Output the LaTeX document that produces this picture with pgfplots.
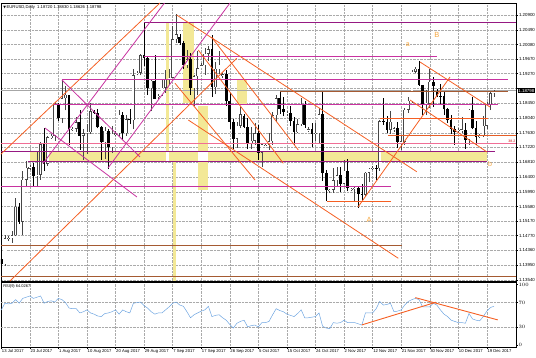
\documentclass[border=0pt]{standalone}
\usepackage{pgfplots}
\pgfplotsset{compat=1.18}
\usepackage{pgfplotstable}
\usepackage{fontspec}
\setmainfont{Liberation Sans}
\newfontfamily\dejavu{DejaVu Sans}

\definecolor{mag}{RGB}{150,25,130}
\definecolor{magl}{RGB}{200,50,160}
\definecolor{pinkl}{RGB}{240,110,150}
\definecolor{orng}{RGB}{245,95,35}
\definecolor{brwn}{RGB}{165,90,50}
\definecolor{ylw}{RGB}{243,232,150}
\definecolor{rsiblue}{RGB}{110,165,225}
\definecolor{gridc}{RGB}{170,170,170}
\definecolor{lbl}{RGB}{245,165,60}
\definecolor{cand}{RGB}{70,70,70}

\pgfplotstableread{
i o h l c
1 1.1398 1.1480 1.1393 1.1470
2 1.1468 1.1475 1.1462 1.1470
3 1.1470 1.1491 1.1457 1.1478
4 1.1478 1.1583 1.1475 1.1557
6 1.1516 1.1658 1.1480 1.1632
7 1.1632 1.1684 1.1613 1.1665
8 1.1663 1.1672 1.1660 1.1668
10 1.1642 1.1712 1.1612 1.1646
11 1.1646 1.1738 1.1633 1.1731
13 1.1677 1.1753 1.1671 1.1750
14 1.1748 1.1760 1.1745 1.1755
15 1.1755 1.1847 1.1740 1.1842
17 1.1803 1.1910 1.1790 1.1859
18 1.1859 1.1893 1.1825 1.1868
20 1.1770 1.1778 1.1768 1.1774
21 1.1774 1.1808 1.1765 1.1792
23 1.1754 1.1774 1.1688 1.1762
24 1.1762 1.1788 1.1704 1.1765
25 1.1765 1.1845 1.1760 1.1822
29 1.1736 1.1779 1.1691 1.1768
31 1.1723 1.1781 1.1706 1.1760
32 1.1758 1.1768 1.1755 1.1762
33 1.1762 1.1825 1.1754 1.1813
35 1.1761 1.1813 1.1755 1.1800
37 1.1797 1.1941 1.1773 1.1923
38 1.1925 1.1935 1.1922 1.1930
39 1.1930 1.1983 1.1923 1.1978
42 1.1886 1.1911 1.1823 1.1908
44 1.1862 1.1870 1.1856 1.1866
45 1.1866 1.1913 1.1865 1.1888
46 1.1888 1.1938 1.1873 1.1913
47 1.1913 1.1939 1.1895 1.1916
48 1.1916 1.2059 1.1915 1.2022
49 1.2022 1.2092 1.2013 1.2036
52 1.1951 1.1994 1.1942 1.1967
54 1.1887 1.1923 1.1838 1.1920
55 1.1920 1.1989 1.1867 1.1942
56 1.1948 1.1956 1.1945 1.1950
57 1.1950 1.1997 1.1924 1.1983
58 1.1983 1.2004 1.1962 1.1995
60 1.1890 1.1960 1.1870 1.1940
61 1.1940 1.1990 1.1927 1.1951
62 1.1920 1.1930 1.1914 1.1925
66 1.1746 1.1792 1.1721 1.1782
67 1.1782 1.1834 1.1776 1.1814
70 1.1731 1.1780 1.1717 1.1741
71 1.1741 1.1790 1.1730 1.1762
73 1.1707 1.1731 1.1669 1.1731
74 1.1728 1.1735 1.1725 1.1730
75 1.1730 1.1763 1.1715 1.1739
76 1.1739 1.1820 1.1730 1.1812
77 1.1812 1.1869 1.1792 1.1859
80 1.1815 1.1822 1.1810 1.1818
83 1.1765 1.1800 1.1761 1.1787
84 1.1787 1.1860 1.1783 1.1843
86 1.1770 1.1780 1.1765 1.1772
88 1.1760 1.1791 1.1740 1.1762
89 1.1762 1.1832 1.1735 1.1814
92 1.1600 1.1608 1.1595 1.1605
93 1.1605 1.1666 1.1596 1.1631
94 1.1631 1.1669 1.1615 1.1645
96 1.1621 1.1688 1.1620 1.1657
98 1.1604 1.1610 1.1600 1.1606
99 1.1606 1.1611 1.1574 1.1610
102 1.1591 1.1655 1.1584 1.1652
103 1.1652 1.1666 1.1626 1.1663
104 1.1663 1.1670 1.1660 1.1665
106 1.1664 1.1798 1.1658 1.1795
109 1.1771 1.1822 1.1760 1.1794
110 1.1770 1.1778 1.1765 1.1775
112 1.1737 1.1757 1.1714 1.1739
113 1.1738 1.1832 1.1730 1.1827
114 1.1827 1.1863 1.1818 1.1851
115 1.1851 1.1937 1.1845 1.1933
116 1.1933 1.1945 1.1930 1.1940
119 1.1844 1.1881 1.1812 1.1846
120 1.1844 1.1940 1.1832 1.1904
128 1.1768 1.1775 1.1763 1.1770
129 1.1770 1.1807 1.1762 1.1772
131 1.1743 1.1828 1.1730 1.1827
134 1.1752 1.1760 1.1748 1.1756
135 1.1756 1.1810 1.1751 1.1783
136 1.1783 1.1849 1.1772 1.1840
137 1.1840 1.1880 1.1826 1.1872
138 1.18720 1.18830 1.18626 1.18798
}\bull

\pgfplotstableread{
i o h l c
0 1.1413 1.1430 1.1390 1.1398
5 1.1557 1.1568 1.1510 1.1516
9 1.1668 1.1678 1.1613 1.1642
12 1.1731 1.1777 1.1656 1.1677
16 1.1842 1.1846 1.1795 1.1803
19 1.1868 1.1869 1.1729 1.1773
22 1.1792 1.1827 1.1715 1.1754
26 1.1822 1.1826 1.1815 1.1818
27 1.1818 1.1830 1.1775 1.1778
28 1.1778 1.1783 1.1688 1.1736
30 1.1768 1.1774 1.1662 1.1723
34 1.1813 1.1820 1.1742 1.1761
36 1.1800 1.1829 1.1788 1.1797
40 1.1978 1.2070 1.1949 1.1970
41 1.1970 1.1977 1.1868 1.1886
43 1.1908 1.1980 1.1856 1.1858
50 1.2030 1.2036 1.2008 1.2012
51 1.2012 1.2019 1.1940 1.1951
53 1.1967 1.1985 1.1868 1.1887
59 1.1995 1.2035 1.1862 1.1890
63 1.1925 1.1938 1.1838 1.1850
64 1.1850 1.1872 1.1774 1.1793
65 1.1793 1.1801 1.1717 1.1746
68 1.1810 1.1815 1.1775 1.1780
69 1.1780 1.1803 1.1717 1.1731
72 1.1762 1.1785 1.1687 1.1707
78 1.1859 1.1880 1.1816 1.1830
79 1.1830 1.1861 1.1809 1.1821
81 1.1818 1.1836 1.1781 1.1796
82 1.1796 1.1806 1.1729 1.1765
85 1.1843 1.1850 1.1777 1.1785
87 1.1772 1.1790 1.1723 1.1760
90 1.1814 1.1880 1.1630 1.1651
91 1.1651 1.1660 1.1573 1.1604
95 1.1645 1.1669 1.1598 1.1621
97 1.1657 1.1689 1.1600 1.1609
100 1.1610 1.1612 1.1554 1.1593
101 1.1593 1.1620 1.1575 1.1591
105 1.1665 1.1673 1.1631 1.1664
107 1.1795 1.1860 1.1785 1.1794
108 1.1794 1.1810 1.1761 1.1771
111 1.1775 1.1792 1.1721 1.1737
117 1.1940 1.1961 1.1893 1.1895
118 1.1895 1.1896 1.1812 1.1844
121 1.1904 1.1917 1.1834 1.1893
122 1.1880 1.1885 1.1862 1.1866
123 1.1866 1.1897 1.1843 1.1865
124 1.1865 1.1880 1.1812 1.1828
125 1.1828 1.1832 1.1790 1.1797
126 1.1797 1.1811 1.1760 1.1773
127 1.1773 1.1783 1.1729 1.1766
130 1.1771 1.1790 1.1718 1.1743
132 1.1827 1.1862 1.1772 1.1776
133 1.1776 1.1796 1.1730 1.1751
}\bear

\pgfplotstableread{
i r
0 58
1 69
2 68
3 69
4 75
5 69
6 77
7 79
8 81
9 77
10 79
11 81
12 69
13 72
14 73
15 71
16 77
17 75
18 70
19 61
20 60
21 60
22 53
23 55
24 58
25 53
26 51
27 48
28 47
29 52
30 53
31 55
32 58
33 51
34 58
35 55
36 53
37 69
38 70
39 71
40 65
41 61
42 55
43 51
44 53
45 53
46 58
47 63
48 69
49 71
50 66
51 64
52 55
53 45
54 50
55 53
56 56
57 58
58 64
59 47
60 49
61 50
62 45
63 41
64 34
65 28
66 36
67 39
68 41
69 30
70 32
71 33
72 30
73 37
74 37
75 39
76 50
77 60
78 57
79 55
80 51
81 49
82 47
83 52
84 58
85 45
86 45
87 46
88 47
89 53
90 31
91 28
92 27
93 37
94 36
95 37
96 41
97 37
98 37
99 37
100 35
101 33
102 53
103 53
104 53
105 60
106 72
107 66
108 67
109 69
110 55
111 56
112 58
113 66
114 72
115 75
116 77
117 75
118 63
119 63
120 63
121 69
122 66
123 58
124 51
125 47
126 41
127 39
128 37
129 37
130 36
131 52
132 43
133 41
134 40
135 47
136 56
137 62
138 64
}\rsi

\begin{document}
\begin{tikzpicture}
\path[use as bounding box] (0,0) rectangle (536pt,357pt);

\begin{axis}[
  at={(1pt,76pt)}, anchor=south west, scale only axis,
  width=515pt, height=278pt,
  xmin=-0.08, xmax=144.17, ymin=1.13511, ymax=1.21233,
  xtick={0,8,...,136}, xticklabels={}, xtick style={draw=none},
  ytick={1.209,1.2049,1.2008,1.1967,1.1927,1.1886,1.1845,1.1804,1.1763,1.1722,1.1681,1.164,1.1599,1.1558,1.1517,1.1477,1.1436,1.1395,1.1354},
  yticklabels={1.20900,1.20490,1.20080,1.19670,1.19270,{},1.18450,1.18040,1.17630,1.17220,1.16810,1.16400,1.15990,1.15580,1.15170,1.14770,1.14360,1.13950,1.13540},
  ytick pos=right, yticklabel pos=right,
  yticklabel style={font=\fontsize{4.4}{5}\selectfont, inner sep=0.8pt},
  tick align=outside, major tick length=2pt,
  ytick style={black, line width=0.4pt},
  grid=major, grid style={densely dotted, gridc, line width=0.4pt},
  axis line style={black, line width=0.6pt},
  clip mode=individual,
]
% yellow rectangles (overlaps drawn white, as the terminal does)
\addplot[fill=ylw, draw=none] coordinates {(8.04,1.17122) (136.05,1.17122) (136.05,1.16825) (8.04,1.16825)};
\addplot[fill=ylw, draw=none] coordinates {(46.1,1.20686) (47.1,1.20686) (47.1,1.16825) (46.1,1.16825)};
\addplot[fill=ylw, draw=none] coordinates {(48.01,1.16825) (48.94,1.16825) (48.94,1.13511) (48.01,1.13511)};
\addplot[fill=ylw, draw=none] coordinates {(50.98,1.2067) (53.98,1.2067) (53.98,1.18447) (50.98,1.18447)};
\addplot[fill=ylw, draw=none] coordinates {(55.18,1.18372) (57.98,1.18372) (57.98,1.16039) (55.18,1.16039)};
\addplot[fill=ylw, draw=none] coordinates {(66.11,1.19094) (68.91,1.19094) (68.91,1.18428) (66.11,1.18428)};
\addplot[fill=white, draw=none] coordinates {(46.1,1.17122) (47.1,1.17122) (47.1,1.16825) (46.1,1.16825)};
\addplot[fill=white, draw=none] coordinates {(55.18,1.17122) (57.98,1.17122) (57.98,1.16825) (55.18,1.16825)};

% bid line
\addplot[gray!70, line width=0.4pt] coordinates {(-0.1,1.18798) (144.17,1.18798)};

% candles: wicks
\addplot[cand, line width=0.5pt, mark=none, quiver={u=0, v=\thisrow{h}-\thisrow{l}}] table[x=i, y=l] {\bull};
\addplot[black, line width=0.5pt, mark=none, quiver={u=0, v=\thisrow{h}-\thisrow{l}}] table[x=i, y=l] {\bear};
% bodies
\addplot[cand, line width=2.7pt, mark=none, quiver={u=0, v=\thisrow{c}-\thisrow{o}}] table[x=i, y=o] {\bull};
\addplot[white, line width=1.8pt, mark=none, quiver={u=0, v=\thisrow{c}-\thisrow{o}-0.00026}] table[x=i, y expr={\thisrow{o}+0.00013}] {\bull};
\addplot[black, line width=2.7pt, mark=none, quiver={u=0, v=\thisrow{o}-\thisrow{c}}] table[x=i, y=c] {\bear};

% horizontal levels
\addplot[mag, line width=0.9pt] coordinates {(39.97,1.20686) (144.17,1.20686)};
\addplot[magl, line width=0.9pt] coordinates {(39.97,1.1976) (122.04,1.1976)};
\addplot[magl, line width=0.9pt] coordinates {(17,1.1910) (141.93,1.1910)};
\addplot[brwn, line width=0.9pt] coordinates {(78.07,1.1877) (141.93,1.1877)};
\addplot[magl, line width=0.9pt] coordinates {(14.5,1.1841) (139.13,1.1841)};
\addplot[orng, line width=0.9pt] coordinates {(106.08,1.1803) (136.33,1.1803)};
\addplot[orng!80!brwn, line width=0.9pt] coordinates {(108.32,1.1756) (144.17,1.1756)};
\addplot[pinkl, line width=0.9pt] coordinates {(-0.1,1.17336) (144.17,1.17336)};
\addplot[mag, line width=0.9pt] coordinates {(-0.1,1.17122) (138.29,1.17122)};
\addplot[mag, line width=0.9pt] coordinates {(7.48,1.16825) (136.05,1.16825)};
\addplot[magl, line width=0.9pt] coordinates {(-0.1,1.1615) (109.16,1.1615)};
\addplot[orng, line width=0.9pt] coordinates {(91.23,1.15733) (109.16,1.15733)};
\addplot[brwn, line width=0.9pt] coordinates {(-0.1,1.14511) (112.24,1.14511)};
\addplot[brwn, line width=0.9pt] coordinates {(-0.1,1.1365) (144.17,1.1365)};

% trend lines
\addplot[orng, line width=0.8pt] coordinates {(-0.36,1.17011) (44.45,1.21233)};
\addplot[orng, line width=0.8pt] coordinates {(2.44,1.13511) (65.94,1.19697)};
\addplot[orng, line width=0.8pt] coordinates {(49.13,1.20900) (116.36,1.16547)};
\addplot[orng, line width=0.8pt] coordinates {(52.38,1.17983) (111.2,1.14142)};
\addplot[orng, line width=0.8pt] coordinates {(58.94,1.20281) (83.19,1.1715)};
\addplot[orng, line width=0.8pt] coordinates {(55.18,1.19928) (79.0,1.16781)};
\addplot[orng, line width=0.8pt] coordinates {(48.66,1.19003) (71.07,1.16317)};
\addplot[orng, line width=0.8pt] coordinates {(117.28,1.19594) (136.89,1.18344)};
\addplot[orng, line width=0.8pt] coordinates {(114.48,1.18539) (136.05,1.17094)};
\addplot[orng, line width=0.8pt] coordinates {(99.92,1.15567) (125.69,1.19178)};
\addplot[magl, line width=0.8pt] coordinates {(17.0,1.19094) (38.85,1.16956)};
\addplot[magl, line width=0.8pt] coordinates {(12.24,1.17761) (38.01,1.15844)};
\addplot[magl, line width=0.8pt] coordinates {(11.68,1.16775) (45.71,1.21233)};
\addplot[magl, line width=0.8pt] coordinates {(29.89,1.16650) (64.06,1.21233)};

% labels
\node[text=lbl, font=\fontsize{7}{8}\selectfont] at (axis cs:113.9,1.20067) {a};
\node[text=lbl, font=\fontsize{7.5}{8}\selectfont] at (axis cs:122.0,1.20344) {B};
\node[text=lbl, font=\fontsize{7.5}{8}\selectfont] at (axis cs:103.0,1.15200) {A};
\node[text=lbl, font=\fontsize{7}{8}\selectfont] at (axis cs:136.9,1.16761) {b};
\node[text=red!80!black, font=\fontsize{3.5}{4}\selectfont, anchor=east, inner sep=0.3pt] at (axis cs:144.1,1.17400) {38.2};
\node[fill=black, text=white, font=\fontsize{4.4}{5}\selectfont, anchor=west, inner sep=0.7pt, xshift=1.5pt] at (axis cs:144.17,1.18798) {1.18798};
\node[anchor=north west, inner sep=0pt, font=\fontsize{4.2}{5}\selectfont] at (rel axis cs:0.004,0.992) {{\dejavu\fontsize{3.5}{4}\selectfont ▼}\,EURUSD,Daily\ \ 1.18720 1.18830 1.18626 1.18798};
\end{axis}

\begin{axis}[
  at={(1pt,10pt)}, anchor=south west, scale only axis,
  width=515pt, height=65pt,
  xmin=-0.08, xmax=144.17, ymin=-3.31, ymax=104.13,
  xtick={0,8,...,136},
  xticklabels={13 Jul 2017,23 Jul 2017,1 Aug 2017,10 Aug 2017,20 Aug 2017,29 Aug 2017,7 Sep 2017,17 Sep 2017,26 Sep 2017,5 Oct 2017,15 Oct 2017,24 Oct 2017,2 Nov 2017,12 Nov 2017,21 Nov 2017,30 Nov 2017,10 Dec 2017,19 Dec 2017},
  xticklabel style={anchor=north west, inner sep=0pt, yshift=-1pt, xshift=0.5pt, font=\fontsize{4.2}{5}\selectfont},
  ytick={0,30,70,100}, ytick pos=right, yticklabel pos=right,
  yticklabel style={font=\fontsize{4.4}{5}\selectfont, inner sep=0.8pt},
  tick align=outside, major tick length=1.5pt,
  tick style={black, line width=0.4pt},
  xmajorgrids, grid style={densely dotted, gridc, line width=0.4pt},
  axis line style={black, line width=0.6pt},
  clip mode=individual,
]
\addplot[densely dotted, gridc, line width=0.4pt] coordinates {(-0.1,30) (144.17,30)};
\addplot[densely dotted, gridc, line width=0.4pt] coordinates {(-0.1,70) (144.17,70)};
\addplot[rsiblue, line width=0.5pt, no marks] table[x=i, y=r] {\rsi};
\addplot[orng, line width=0.9pt] coordinates {(101.04,33.3) (121.76,70.7)};
\addplot[orng, line width=0.9pt] coordinates {(115.97,78.3) (139.05,41.5)};
\node[anchor=north west, inner sep=0pt, font=\fontsize{4}{5}\selectfont] at (rel axis cs:0.004,0.97) {RSI(9) 64.0267};
\end{axis}
\end{tikzpicture}
\end{document}
